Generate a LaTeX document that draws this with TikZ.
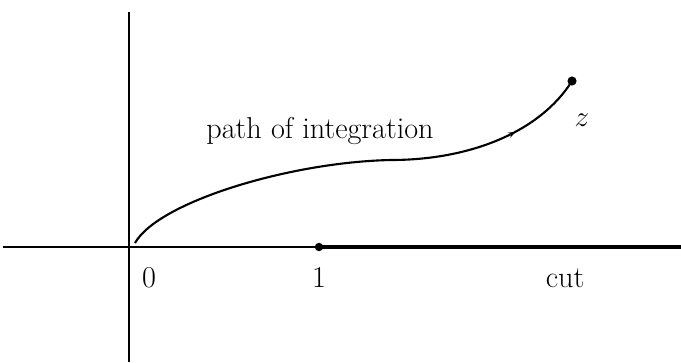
\documentclass[tikz,border=0pt]{standalone}
\usepackage{tikz}
\usetikzlibrary{arrows.meta, decorations.markings}

\begin{document}
\begin{tikzpicture}[
  x=0.025cm, y=-0.025cm,
  every node/.style={font=\fontsize{21.5}{25}\selectfont},
  axisline/.style={line width=1.3pt, color=black},
  cutline/.style={line width=3.4pt, color=black},
  pathline/.style={line width=1.5pt, color=black,
    postaction={decorate},
    decoration={markings,
      mark=at position 0.84 with {\arrow{Stealth[length=5pt,width=4pt]}}}},
  enddot/.style={circle, fill=black, inner sep=0pt, minimum size=#1},
  lbl/.style={anchor=base, inner sep=0pt}
]
\useasboundingbox (0,0) rectangle (681,362);

%% ── Axes ─────────────────────────────────────────────────────
\coordinate (origin) at (129,247);
\coordinate (xleft)  at (3,247);
\coordinate (xright) at (681,247);
\coordinate (ytop)   at (129,12);
\coordinate (ybot)   at (129,362);
\draw[axisline] (xleft) -- (xright);
\draw[axisline] (ytop)  -- (ybot);

%% ── Branch cut from 1 to infinity ───────────────────────────
\coordinate (one) at (319,247);
\draw[cutline] (one) -- (xright);
\node[enddot=6pt] at (one) {};

%% ── Path of integration ─────────────────────────────────────
\coordinate (start) at (135,243);
\coordinate (mid)   at (391,160);
\coordinate (zpt)   at (572,81);
\draw[pathline] (start) .. controls (158,202) and (290,162) .. (mid)
                        .. controls (470,160) and (540,132) .. (zpt);
\node[enddot=6.5pt] at (zpt) {};

%% ── Labels ──────────────────────────────────────────────────
\node[lbl] (pathlbl) at (320,138) {path of integration};
\node[lbl] (zlbl)    at (582,126) {$z$};
\node[lbl] (zero)    at (149,287) {0};
\node[lbl] (onelbl)  at (319,287) {1};
\node[lbl] (cutlbl)  at (565,287) {cut};

\end{tikzpicture}
\end{document}
